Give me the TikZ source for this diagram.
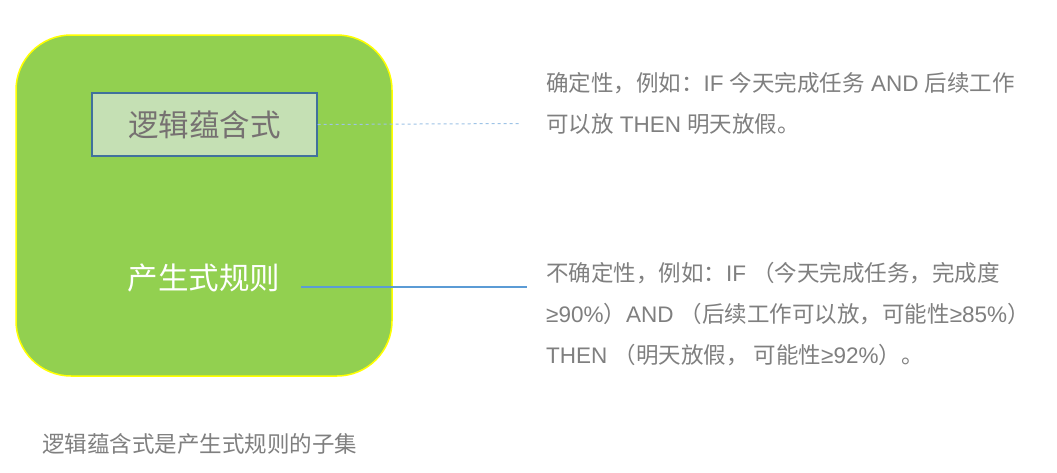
\documentclass[tikz,border=0pt]{standalone}
\usepackage{fontspec}
\setmainfont{Noto Sans CJK SC}
\newfontfamily\latinfont{Liberation Sans}
\newcommand\latn[1]{{\latinfont #1}}
\definecolor{boxgreen}{HTML}{92D050}
\definecolor{boxedge}{HTML}{FFFF00}
\definecolor{innerfill}{HTML}{C5E0B4}
\definecolor{inneredge}{HTML}{41719C}
\definecolor{linkblue}{HTML}{5B9BD5}
\definecolor{dashblue}{HTML}{9DC3E6}
\definecolor{txtgray}{HTML}{7F7F7F}
\definecolor{innergray}{HTML}{767171}
\begin{document}
\begin{tikzpicture}[x=1pt,y=-1pt,
   note/.style={inner sep=0pt,anchor=west,align=left,text=txtgray,
     font=\fontsize{22.5}{41}\selectfont}]
   \useasboundingbox[fill=white] (0,0) rectangle (1057,472);

   \node[draw=boxedge,line width=1.5pt,fill=boxgreen,rounded corners=55pt,
     minimum width=376pt,minimum height=341pt] (rule) at (204,205.5) {};

   \node[draw=inneredge,line width=1.2pt,fill=innerfill,text=innergray,
     minimum width=225pt,minimum height=63pt,
     font=\fontsize{30.5}{32}\selectfont] (logic) at (204.5,124.5) {逻辑蕴含式};

   \node[text=white,inner sep=0pt,font=\fontsize{30.5}{32}\selectfont]
     (prod) at (204,278) {产生式规则};

   \node[note] (certain) at (546,103.5)
     {确定性，例如：\latn{IF }今天完成任务\latn{ AND }后续工作\\可以放\latn{ THEN }明天放假。};
   \node[note] (uncertain) at (546,314)
     {不确定性，例如：\latn{IF }（今天完成任务，完成度\\\latn{≥90\%}）\latn{AND }（后续工作可以放，可能性\latn{≥85\%}）\\\latn{THEN }（明天放假， 可能性\latn{≥92\%}）。};

   \node[inner sep=0pt,anchor=west,text=txtgray,font=\fontsize{22.5}{26}\selectfont]
     (subset) at (42,444) {逻辑蕴含式是产生式规则的子集};

   \coordinate (dashend) at (520,123.5);
   \coordinate (linestart) at (301,287);
   \coordinate (lineend) at (527,287);
   \draw[dashed,dashblue,line width=1pt] (logic.east) -- (dashend);
   \draw[linkblue,line width=1.5pt] (linestart) -- (lineend);
 \end{tikzpicture}
\end{document}
